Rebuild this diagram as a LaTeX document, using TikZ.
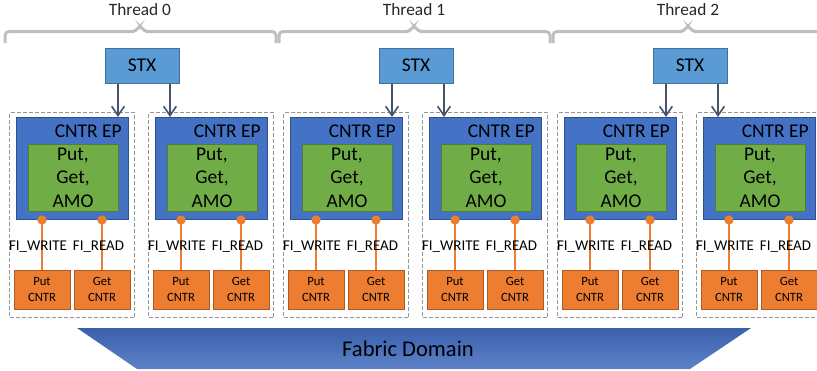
\documentclass[tikz,border=0pt]{standalone}
\usepackage{fontspec}
\setmainfont{Carlito}
\usetikzlibrary{arrows.meta, positioning, calc}

\definecolor{stxBlue}{RGB}{91,155,213}
\definecolor{stxEdge}{RGB}{65,113,156}
\definecolor{epBlue}{RGB}{68,114,196}
\definecolor{epEdge}{RGB}{47,82,143}
\definecolor{opGreen}{RGB}{112,173,71}
\definecolor{opEdge}{RGB}{80,126,50}
\definecolor{cntrOrange}{RGB}{237,125,49}
\definecolor{cntrEdge}{RGB}{174,90,33}
\definecolor{feedSlate}{RGB}{68,84,106}
\definecolor{braceGray}{RGB}{191,191,191}
\definecolor{groupGray}{RGB}{150,150,150}
\definecolor{fabricTop}{RGB}{58,96,173}
\definecolor{fabricBot}{RGB}{94,130,200}

\begin{document}
\begin{tikzpicture}[
        x=0.75pt, y=-0.75pt,
        stx/.style={rectangle, draw=stxEdge, fill=stxBlue, line width=0.75pt, minimum width=55.5pt, minimum height=26.25pt, font=\fontsize{14.6}{16}\selectfont},
        endpoint/.style={rectangle, draw=epEdge, fill=epBlue, line width=0.75pt, minimum width=84pt, minimum height=76.5pt, inner sep=0pt, anchor=north west},
        ops/.style={rectangle, draw=opEdge, fill=opGreen, line width=0.75pt, minimum width=67.5pt, minimum height=50.25pt, inner sep=0pt, align=center, font=\fontsize{14.6}{17.6}\selectfont},
        cntr/.style={rectangle, draw=cntrEdge, fill=cntrOrange, line width=0.75pt, minimum width=42pt, minimum height=29.25pt, inner sep=0pt, align=center, font=\fontsize{9.5}{11.5}\selectfont},
        port/.style={circle, fill=cntrOrange, inner sep=0pt, minimum size=7pt},
        wire/.style={cntrOrange, line width=1.3pt},
        feed/.style={feedSlate, line width=1.2pt, -{Straight Barb[length=7pt, width=9.5pt]}},
        group/.style={rectangle, draw=groupGray, line width=1pt, dash pattern=on 3pt off 1.5pt, minimum width=93.75pt, minimum height=153.75pt, inner sep=0pt, anchor=north west},
        flag/.style={font=\fontsize{11.2}{13}\selectfont, inner sep=0pt, anchor=base},
        brace/.style={braceGray, line width=2.25pt, rounded corners=3pt}
    ]
        \useasboundingbox (0,0) rectangle (817,371);
        \clip (0,0) rectangle (817,371);

        % One thread: brace, STX and its two counter endpoints
        \foreach \t in {0,1,2} {
            \begin{scope}[shift={(274*\t,0)}]
                \draw[brace] (5,43) -- (5,31.5) -- (136,31.5) -- (140,25) -- (144,31.5) -- (276,31.5) -- (276,43);
                \node[flag, font=\fontsize{13}{15}\selectfont, text=black!85] (thr\t) at (140,15) {Thread \t};
                \node[stx] (stx\t) at (142,65.5) {STX};

                \foreach \g in {0,1} {
                    \begin{scope}[shift={(139*\g,0)}]
                        \node[group] (grp\t\g) at (9,112) {};
                        \node[endpoint] (ep\t\g) at (16,117) {};
                        \node[anchor=base east, inner sep=0pt, font=\fontsize{14.6}{16}\selectfont] (eplbl\t\g) at (122,137) {CNTR EP};
                        \node[ops] (ops\t\g) at (73,177.5) {Put,\\Get,\\AMO};

                        % completion counters hanging off the endpoint
                        \node[cntr] (put\t\g) at (42,289.5) {Put\\CNTR};
                        \node[cntr] (get\t\g) at (102,289.5) {Get\\CNTR};
                        \node[port] (wr\t\g) at (42,220) {};
                        \node[port] (rd\t\g) at (102,220) {};
                        \draw[wire] (wr\t\g.center) -- (put\t\g.north);
                        \draw[wire] (rd\t\g.center) -- (get\t\g.north);
                        \node[flag] (wrlbl\t\g) at (38,250) {FI\_WRITE};
                        \node[flag] (rdlbl\t\g) at (98.5,250) {FI\_READ};
                    \end{scope}
                }

                \draw[feed] ([xshift=-18pt]stx\t.south) -- ([xshift=-18pt]stx\t.south |- ep\t0.north);
                \draw[feed] ([xshift=21pt]stx\t.south) -- ([xshift=21pt]stx\t.south |- ep\t1.north);
            \end{scope}
        }

        % Shared fabric domain underneath
        \shade[top color=fabricTop, bottom color=fabricBot] (77,328) -- (751,328) -- (690,369) -- (137,369) -- cycle;
        \node[flag, font=\fontsize{16.9}{19}\selectfont] (fabric) at (408,356) {Fabric Domain};
    \end{tikzpicture}
\end{document}
